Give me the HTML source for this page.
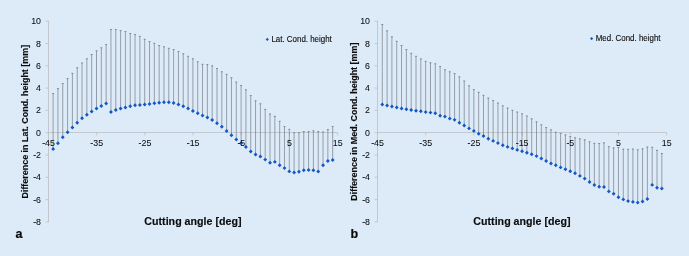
<!DOCTYPE html>
<html><head><meta charset="utf-8"><title>Chart</title>
<style>html,body{margin:0;padding:0;background:#ddebf9;}body{width:689px;height:256px;overflow:hidden;font-family:"Liberation Sans",sans-serif;}svg{display:block;will-change:transform;opacity:0.999}</style>
</head><body>
<svg width="689" height="256" viewBox="0 0 689 256" font-family="'Liberation Sans', sans-serif">
<rect width="689" height="256" fill="#ddebf9"/>
<path d="M48.5 20.80V222.30M48.5 132.5H337.70M45.6 21.20h2.9M45.6 43.50h2.9M45.6 65.80h2.9M45.6 88.10h2.9M45.6 110.40h2.9M45.6 132.70h2.9M45.6 155.00h2.9M45.6 177.30h2.9M45.6 199.60h2.9M45.6 221.90h2.9M48.50 132.5v2.9M96.70 132.5v2.9M144.90 132.5v2.9M193.10 132.5v2.9M241.30 132.5v2.9M289.50 132.5v2.9M337.70 132.5v2.9" stroke="#c0c3c8" stroke-width="0.9" fill="none"/>
<path d="M53.12 149.00V93.25M57.94 143.25V88.25M62.76 137.25V83.25M67.58 132.25V78.25M72.40 127.50V73.00M77.22 122.75V67.50M82.04 118.25V62.75M86.86 114.75V58.50M91.68 111.50V54.25M96.50 108.50V50.50M101.32 106.00V47.50M106.14 103.50V44.25M110.96 112.00V29.25M115.78 110.00V29.25M120.60 108.50V30.25M125.42 107.50V31.25M130.24 106.25V33.25M135.06 105.25V34.25M139.88 105.00V36.00M144.70 104.50V39.00M149.52 104.00V41.25M154.34 103.25V43.00M159.16 102.75V45.25M163.98 102.25V46.50M168.80 102.25V48.00M173.62 103.00V49.25M178.44 104.50V51.25M183.26 106.25V53.50M188.08 108.50V56.00M192.90 111.00V58.50M197.72 113.25V61.50M202.54 115.50V64.00M207.36 117.50V64.25M212.18 120.00V65.50M217.00 123.25V68.25M221.82 126.75V71.50M226.64 131.00V74.00M231.46 135.25V77.50M236.28 139.50V81.75M241.10 143.25V85.25M245.92 147.00V89.50M250.74 151.50V95.25M255.56 154.50V100.50M260.38 156.50V103.50M265.20 159.60V109.10M270.02 162.75V113.75M274.84 161.90V116.00M279.66 165.25V121.00M284.48 168.10V126.25M289.30 171.40V129.00M294.12 172.50V132.50M298.94 171.75V132.50M303.76 170.25V131.25M308.58 170.00V131.25M313.40 170.25V130.50M318.22 171.50V131.25M323.04 165.25V131.75M327.86 161.00V129.25M332.68 160.00V126.25" stroke="#70757d" stroke-width="0.66" fill="none"/>
<path d="M52.12 93.55h2.0M56.94 88.55h2.0M61.76 83.55h2.0M66.58 78.55h2.0M71.40 73.30h2.0M76.22 67.80h2.0M81.04 63.05h2.0M85.86 58.80h2.0M90.68 54.55h2.0M95.50 50.80h2.0M100.32 47.80h2.0M105.14 44.55h2.0M109.96 29.55h2.0M114.78 29.55h2.0M119.60 30.55h2.0M124.42 31.55h2.0M129.24 33.55h2.0M134.06 34.55h2.0M138.88 36.30h2.0M143.70 39.30h2.0M148.52 41.55h2.0M153.34 43.30h2.0M158.16 45.55h2.0M162.98 46.80h2.0M167.80 48.30h2.0M172.62 49.55h2.0M177.44 51.55h2.0M182.26 53.80h2.0M187.08 56.30h2.0M191.90 58.80h2.0M196.72 61.80h2.0M201.54 64.30h2.0M206.36 64.55h2.0M211.18 65.80h2.0M216.00 68.55h2.0M220.82 71.80h2.0M225.64 74.30h2.0M230.46 77.80h2.0M235.28 82.05h2.0M240.10 85.55h2.0M244.92 89.80h2.0M249.74 95.55h2.0M254.56 100.80h2.0M259.38 103.80h2.0M264.20 109.40h2.0M269.02 114.05h2.0M273.84 116.30h2.0M278.66 121.30h2.0M283.48 126.55h2.0M288.30 129.30h2.0M293.12 132.80h2.0M297.94 132.80h2.0M302.76 131.55h2.0M307.58 131.55h2.0M312.40 130.80h2.0M317.22 131.55h2.0M322.04 132.05h2.0M326.86 129.55h2.0M331.68 126.55h2.0" stroke="#787c82" stroke-width="0.8" fill="none"/>
<path d="M53.12 147.05l1.95 1.95l-1.95 1.95l-1.95 -1.95zM57.94 141.30l1.95 1.95l-1.95 1.95l-1.95 -1.95zM62.76 135.30l1.95 1.95l-1.95 1.95l-1.95 -1.95zM67.58 130.30l1.95 1.95l-1.95 1.95l-1.95 -1.95zM72.40 125.55l1.95 1.95l-1.95 1.95l-1.95 -1.95zM77.22 120.80l1.95 1.95l-1.95 1.95l-1.95 -1.95zM82.04 116.30l1.95 1.95l-1.95 1.95l-1.95 -1.95zM86.86 112.80l1.95 1.95l-1.95 1.95l-1.95 -1.95zM91.68 109.55l1.95 1.95l-1.95 1.95l-1.95 -1.95zM96.50 106.55l1.95 1.95l-1.95 1.95l-1.95 -1.95zM101.32 104.05l1.95 1.95l-1.95 1.95l-1.95 -1.95zM106.14 101.55l1.95 1.95l-1.95 1.95l-1.95 -1.95zM110.96 110.05l1.95 1.95l-1.95 1.95l-1.95 -1.95zM115.78 108.05l1.95 1.95l-1.95 1.95l-1.95 -1.95zM120.60 106.55l1.95 1.95l-1.95 1.95l-1.95 -1.95zM125.42 105.55l1.95 1.95l-1.95 1.95l-1.95 -1.95zM130.24 104.30l1.95 1.95l-1.95 1.95l-1.95 -1.95zM135.06 103.30l1.95 1.95l-1.95 1.95l-1.95 -1.95zM139.88 103.05l1.95 1.95l-1.95 1.95l-1.95 -1.95zM144.70 102.55l1.95 1.95l-1.95 1.95l-1.95 -1.95zM149.52 102.05l1.95 1.95l-1.95 1.95l-1.95 -1.95zM154.34 101.30l1.95 1.95l-1.95 1.95l-1.95 -1.95zM159.16 100.80l1.95 1.95l-1.95 1.95l-1.95 -1.95zM163.98 100.30l1.95 1.95l-1.95 1.95l-1.95 -1.95zM168.80 100.30l1.95 1.95l-1.95 1.95l-1.95 -1.95zM173.62 101.05l1.95 1.95l-1.95 1.95l-1.95 -1.95zM178.44 102.55l1.95 1.95l-1.95 1.95l-1.95 -1.95zM183.26 104.30l1.95 1.95l-1.95 1.95l-1.95 -1.95zM188.08 106.55l1.95 1.95l-1.95 1.95l-1.95 -1.95zM192.90 109.05l1.95 1.95l-1.95 1.95l-1.95 -1.95zM197.72 111.30l1.95 1.95l-1.95 1.95l-1.95 -1.95zM202.54 113.55l1.95 1.95l-1.95 1.95l-1.95 -1.95zM207.36 115.55l1.95 1.95l-1.95 1.95l-1.95 -1.95zM212.18 118.05l1.95 1.95l-1.95 1.95l-1.95 -1.95zM217.00 121.30l1.95 1.95l-1.95 1.95l-1.95 -1.95zM221.82 124.80l1.95 1.95l-1.95 1.95l-1.95 -1.95zM226.64 129.05l1.95 1.95l-1.95 1.95l-1.95 -1.95zM231.46 133.30l1.95 1.95l-1.95 1.95l-1.95 -1.95zM236.28 137.55l1.95 1.95l-1.95 1.95l-1.95 -1.95zM241.10 141.30l1.95 1.95l-1.95 1.95l-1.95 -1.95zM245.92 145.05l1.95 1.95l-1.95 1.95l-1.95 -1.95zM250.74 149.55l1.95 1.95l-1.95 1.95l-1.95 -1.95zM255.56 152.55l1.95 1.95l-1.95 1.95l-1.95 -1.95zM260.38 154.55l1.95 1.95l-1.95 1.95l-1.95 -1.95zM265.20 157.65l1.95 1.95l-1.95 1.95l-1.95 -1.95zM270.02 160.80l1.95 1.95l-1.95 1.95l-1.95 -1.95zM274.84 159.95l1.95 1.95l-1.95 1.95l-1.95 -1.95zM279.66 163.30l1.95 1.95l-1.95 1.95l-1.95 -1.95zM284.48 166.15l1.95 1.95l-1.95 1.95l-1.95 -1.95zM289.30 169.45l1.95 1.95l-1.95 1.95l-1.95 -1.95zM294.12 170.55l1.95 1.95l-1.95 1.95l-1.95 -1.95zM298.94 169.80l1.95 1.95l-1.95 1.95l-1.95 -1.95zM303.76 168.30l1.95 1.95l-1.95 1.95l-1.95 -1.95zM308.58 168.05l1.95 1.95l-1.95 1.95l-1.95 -1.95zM313.40 168.30l1.95 1.95l-1.95 1.95l-1.95 -1.95zM318.22 169.55l1.95 1.95l-1.95 1.95l-1.95 -1.95zM323.04 163.30l1.95 1.95l-1.95 1.95l-1.95 -1.95zM327.86 159.05l1.95 1.95l-1.95 1.95l-1.95 -1.95zM332.68 158.05l1.95 1.95l-1.95 1.95l-1.95 -1.95z" fill="#1458c8"/>
<g font-size="9.6" fill="#0c0c0c" stroke="#0c0c0c" stroke-width="0.06">
<text transform="translate(41.0 24.20) scale(0.92 1)" text-anchor="end">10</text>
<text transform="translate(41.0 46.50) scale(0.92 1)" text-anchor="end">8</text>
<text transform="translate(41.0 68.80) scale(0.92 1)" text-anchor="end">6</text>
<text transform="translate(41.0 91.10) scale(0.92 1)" text-anchor="end">4</text>
<text transform="translate(41.0 113.40) scale(0.92 1)" text-anchor="end">2</text>
<text transform="translate(41.0 135.70) scale(0.92 1)" text-anchor="end">0</text>
<text transform="translate(41.0 158.00) scale(0.92 1)" text-anchor="end">-2</text>
<text transform="translate(41.0 180.30) scale(0.92 1)" text-anchor="end">-4</text>
<text transform="translate(41.0 202.60) scale(0.92 1)" text-anchor="end">-6</text>
<text transform="translate(41.0 224.90) scale(0.92 1)" text-anchor="end">-8</text>
<text transform="translate(48.50 146.2) scale(0.92 1)" text-anchor="middle">-45</text>
<text transform="translate(96.70 146.2) scale(0.92 1)" text-anchor="middle">-35</text>
<text transform="translate(144.90 146.2) scale(0.92 1)" text-anchor="middle">-25</text>
<text transform="translate(193.10 146.2) scale(0.92 1)" text-anchor="middle">-15</text>
<text transform="translate(241.30 146.2) scale(0.92 1)" text-anchor="middle">-5</text>
<text transform="translate(289.50 146.2) scale(0.92 1)" text-anchor="middle">5</text>
<text transform="translate(337.70 146.2) scale(0.92 1)" text-anchor="middle">15</text>
</g>
<path d="M267.3 37.8l1.6 1.6l-1.6 1.6l-1.6 -1.6z" fill="#1458c8"/>
<text transform="translate(271.45 42.00) scale(0.922 1)" font-size="8.6" fill="#0c0c0c" stroke="#0c0c0c" stroke-width="0.12">Lat. Cond. height</text>
<text x="192.90" y="224.55" font-size="10.66" font-weight="bold" stroke="#0c0c0c" stroke-width="0.15" text-anchor="middle" fill="#0c0c0c">Cutting angle [deg]</text>
<text transform="translate(27.9 121.7) rotate(-90)" font-size="8.93" font-weight="bold" stroke="#0c0c0c" stroke-width="0.12" text-anchor="middle" fill="#0c0c0c">Difference in Lat. Cond. height [mm]</text>
<text x="15.6" y="238.25" font-size="12.5" font-weight="bold" fill="#0a0a0a" stroke="#0a0a0a" stroke-width="0.2">a</text>
<path d="M377.5 20.80V222.30M377.5 132.5H666.70M374.6 21.20h2.9M374.6 43.50h2.9M374.6 65.80h2.9M374.6 88.10h2.9M374.6 110.40h2.9M374.6 132.70h2.9M374.6 155.00h2.9M374.6 177.30h2.9M374.6 199.60h2.9M374.6 221.90h2.9M377.50 132.5v2.9M425.70 132.5v2.9M473.90 132.5v2.9M522.10 132.5v2.9M570.30 132.5v2.9M618.50 132.5v2.9M666.70 132.5v2.9" stroke="#c0c3c8" stroke-width="0.9" fill="none"/>
<path d="M382.27 104.50V24.25M387.09 105.50V30.50M391.91 106.50V36.50M396.73 107.50V41.00M401.55 108.50V45.25M406.37 109.25V49.25M411.19 110.00V53.00M416.01 110.75V56.00M420.83 111.25V58.60M425.65 112.10V61.10M430.47 112.60V62.50M435.29 113.25V63.50M440.11 115.75V66.25M444.93 116.60V69.50M449.75 118.60V71.50M454.57 119.85V73.25M459.39 122.75V76.50M464.21 125.50V80.75M469.03 128.40V85.50M473.85 130.90V89.25M478.67 133.70V92.00M483.49 136.00V95.00M488.31 138.70V97.75M493.13 140.90V100.25M497.95 143.10V102.75M502.77 145.25V105.50M507.59 146.90V107.75M512.41 148.40V110.00M517.23 149.90V111.75M522.05 151.20V113.50M526.87 152.70V115.75M531.69 154.20V118.50M536.51 156.10V121.50M541.33 158.50V124.50M546.15 161.00V127.25M550.97 163.50V129.50M555.79 165.30V132.00M560.61 167.40V133.00M565.43 169.30V134.60M570.25 171.30V136.25M575.07 173.30V137.50M579.89 175.90V138.50M584.71 178.60V139.50M589.53 182.00V141.50M594.35 185.00V143.00M599.17 186.75V143.25M603.99 187.00V142.60M608.81 191.40V146.40M613.63 193.70V147.60M618.45 197.30V147.20M623.27 199.40V148.90M628.09 201.10V149.00M632.91 201.90V148.75M637.73 202.60V149.50M642.55 201.50V148.50M647.37 199.00V146.75M652.19 184.90V147.00M657.01 187.75V150.00M661.83 188.50V153.25" stroke="#70757d" stroke-width="0.66" fill="none"/>
<path d="M381.27 24.55h2.0M386.09 30.80h2.0M390.91 36.80h2.0M395.73 41.30h2.0M400.55 45.55h2.0M405.37 49.55h2.0M410.19 53.30h2.0M415.01 56.30h2.0M419.83 58.90h2.0M424.65 61.40h2.0M429.47 62.80h2.0M434.29 63.80h2.0M439.11 66.55h2.0M443.93 69.80h2.0M448.75 71.80h2.0M453.57 73.55h2.0M458.39 76.80h2.0M463.21 81.05h2.0M468.03 85.80h2.0M472.85 89.55h2.0M477.67 92.30h2.0M482.49 95.30h2.0M487.31 98.05h2.0M492.13 100.55h2.0M496.95 103.05h2.0M501.77 105.80h2.0M506.59 108.05h2.0M511.41 110.30h2.0M516.23 112.05h2.0M521.05 113.80h2.0M525.87 116.05h2.0M530.69 118.80h2.0M535.51 121.80h2.0M540.33 124.80h2.0M545.15 127.55h2.0M549.97 129.80h2.0M554.79 132.30h2.0M559.61 133.30h2.0M564.43 134.90h2.0M569.25 136.55h2.0M574.07 137.80h2.0M578.89 138.80h2.0M583.71 139.80h2.0M588.53 141.80h2.0M593.35 143.30h2.0M598.17 143.55h2.0M602.99 142.90h2.0M607.81 146.70h2.0M612.63 147.90h2.0M617.45 147.50h2.0M622.27 149.20h2.0M627.09 149.30h2.0M631.91 149.05h2.0M636.73 149.80h2.0M641.55 148.80h2.0M646.37 147.05h2.0M651.19 147.30h2.0M656.01 150.30h2.0M660.83 153.55h2.0" stroke="#787c82" stroke-width="0.8" fill="none"/>
<path d="M382.27 102.55l1.95 1.95l-1.95 1.95l-1.95 -1.95zM387.09 103.55l1.95 1.95l-1.95 1.95l-1.95 -1.95zM391.91 104.55l1.95 1.95l-1.95 1.95l-1.95 -1.95zM396.73 105.55l1.95 1.95l-1.95 1.95l-1.95 -1.95zM401.55 106.55l1.95 1.95l-1.95 1.95l-1.95 -1.95zM406.37 107.30l1.95 1.95l-1.95 1.95l-1.95 -1.95zM411.19 108.05l1.95 1.95l-1.95 1.95l-1.95 -1.95zM416.01 108.80l1.95 1.95l-1.95 1.95l-1.95 -1.95zM420.83 109.30l1.95 1.95l-1.95 1.95l-1.95 -1.95zM425.65 110.15l1.95 1.95l-1.95 1.95l-1.95 -1.95zM430.47 110.65l1.95 1.95l-1.95 1.95l-1.95 -1.95zM435.29 111.30l1.95 1.95l-1.95 1.95l-1.95 -1.95zM440.11 113.80l1.95 1.95l-1.95 1.95l-1.95 -1.95zM444.93 114.65l1.95 1.95l-1.95 1.95l-1.95 -1.95zM449.75 116.65l1.95 1.95l-1.95 1.95l-1.95 -1.95zM454.57 117.90l1.95 1.95l-1.95 1.95l-1.95 -1.95zM459.39 120.80l1.95 1.95l-1.95 1.95l-1.95 -1.95zM464.21 123.55l1.95 1.95l-1.95 1.95l-1.95 -1.95zM469.03 126.45l1.95 1.95l-1.95 1.95l-1.95 -1.95zM473.85 128.95l1.95 1.95l-1.95 1.95l-1.95 -1.95zM478.67 131.75l1.95 1.95l-1.95 1.95l-1.95 -1.95zM483.49 134.05l1.95 1.95l-1.95 1.95l-1.95 -1.95zM488.31 136.75l1.95 1.95l-1.95 1.95l-1.95 -1.95zM493.13 138.95l1.95 1.95l-1.95 1.95l-1.95 -1.95zM497.95 141.15l1.95 1.95l-1.95 1.95l-1.95 -1.95zM502.77 143.30l1.95 1.95l-1.95 1.95l-1.95 -1.95zM507.59 144.95l1.95 1.95l-1.95 1.95l-1.95 -1.95zM512.41 146.45l1.95 1.95l-1.95 1.95l-1.95 -1.95zM517.23 147.95l1.95 1.95l-1.95 1.95l-1.95 -1.95zM522.05 149.25l1.95 1.95l-1.95 1.95l-1.95 -1.95zM526.87 150.75l1.95 1.95l-1.95 1.95l-1.95 -1.95zM531.69 152.25l1.95 1.95l-1.95 1.95l-1.95 -1.95zM536.51 154.15l1.95 1.95l-1.95 1.95l-1.95 -1.95zM541.33 156.55l1.95 1.95l-1.95 1.95l-1.95 -1.95zM546.15 159.05l1.95 1.95l-1.95 1.95l-1.95 -1.95zM550.97 161.55l1.95 1.95l-1.95 1.95l-1.95 -1.95zM555.79 163.35l1.95 1.95l-1.95 1.95l-1.95 -1.95zM560.61 165.45l1.95 1.95l-1.95 1.95l-1.95 -1.95zM565.43 167.35l1.95 1.95l-1.95 1.95l-1.95 -1.95zM570.25 169.35l1.95 1.95l-1.95 1.95l-1.95 -1.95zM575.07 171.35l1.95 1.95l-1.95 1.95l-1.95 -1.95zM579.89 173.95l1.95 1.95l-1.95 1.95l-1.95 -1.95zM584.71 176.65l1.95 1.95l-1.95 1.95l-1.95 -1.95zM589.53 180.05l1.95 1.95l-1.95 1.95l-1.95 -1.95zM594.35 183.05l1.95 1.95l-1.95 1.95l-1.95 -1.95zM599.17 184.80l1.95 1.95l-1.95 1.95l-1.95 -1.95zM603.99 185.05l1.95 1.95l-1.95 1.95l-1.95 -1.95zM608.81 189.45l1.95 1.95l-1.95 1.95l-1.95 -1.95zM613.63 191.75l1.95 1.95l-1.95 1.95l-1.95 -1.95zM618.45 195.35l1.95 1.95l-1.95 1.95l-1.95 -1.95zM623.27 197.45l1.95 1.95l-1.95 1.95l-1.95 -1.95zM628.09 199.15l1.95 1.95l-1.95 1.95l-1.95 -1.95zM632.91 199.95l1.95 1.95l-1.95 1.95l-1.95 -1.95zM637.73 200.65l1.95 1.95l-1.95 1.95l-1.95 -1.95zM642.55 199.55l1.95 1.95l-1.95 1.95l-1.95 -1.95zM647.37 197.05l1.95 1.95l-1.95 1.95l-1.95 -1.95zM652.19 182.95l1.95 1.95l-1.95 1.95l-1.95 -1.95zM657.01 185.80l1.95 1.95l-1.95 1.95l-1.95 -1.95zM661.83 186.55l1.95 1.95l-1.95 1.95l-1.95 -1.95z" fill="#1458c8"/>
<g font-size="9.6" fill="#0c0c0c" stroke="#0c0c0c" stroke-width="0.06">
<text transform="translate(370.0 24.20) scale(0.92 1)" text-anchor="end">10</text>
<text transform="translate(370.0 46.50) scale(0.92 1)" text-anchor="end">8</text>
<text transform="translate(370.0 68.80) scale(0.92 1)" text-anchor="end">6</text>
<text transform="translate(370.0 91.10) scale(0.92 1)" text-anchor="end">4</text>
<text transform="translate(370.0 113.40) scale(0.92 1)" text-anchor="end">2</text>
<text transform="translate(370.0 135.70) scale(0.92 1)" text-anchor="end">0</text>
<text transform="translate(370.0 158.00) scale(0.92 1)" text-anchor="end">-2</text>
<text transform="translate(370.0 180.30) scale(0.92 1)" text-anchor="end">-4</text>
<text transform="translate(370.0 202.60) scale(0.92 1)" text-anchor="end">-6</text>
<text transform="translate(370.0 224.90) scale(0.92 1)" text-anchor="end">-8</text>
<text transform="translate(377.50 146.2) scale(0.92 1)" text-anchor="middle">-45</text>
<text transform="translate(425.70 146.2) scale(0.92 1)" text-anchor="middle">-35</text>
<text transform="translate(473.90 146.2) scale(0.92 1)" text-anchor="middle">-25</text>
<text transform="translate(522.10 146.2) scale(0.92 1)" text-anchor="middle">-15</text>
<text transform="translate(570.30 146.2) scale(0.92 1)" text-anchor="middle">-5</text>
<text transform="translate(618.50 146.2) scale(0.92 1)" text-anchor="middle">5</text>
<text transform="translate(666.70 146.2) scale(0.92 1)" text-anchor="middle">15</text>
</g>
<path d="M591.6 37.0l1.6 1.6l-1.6 1.6l-1.6 -1.6z" fill="#1458c8"/>
<text transform="translate(595.75 41.20) scale(0.922 1)" font-size="8.6" fill="#0c0c0c" stroke="#0c0c0c" stroke-width="0.12">Med. Cond. height</text>
<text x="521.90" y="224.55" font-size="10.66" font-weight="bold" stroke="#0c0c0c" stroke-width="0.15" text-anchor="middle" fill="#0c0c0c">Cutting angle [deg]</text>
<text transform="translate(356.9 121.7) rotate(-90)" font-size="8.93" font-weight="bold" stroke="#0c0c0c" stroke-width="0.12" text-anchor="middle" fill="#0c0c0c">Difference in Med. Cond. height [mm]</text>
<text x="350.4" y="238.25" font-size="12.5" font-weight="bold" fill="#0a0a0a" stroke="#0a0a0a" stroke-width="0.2">b</text>
</svg>
</body></html>
